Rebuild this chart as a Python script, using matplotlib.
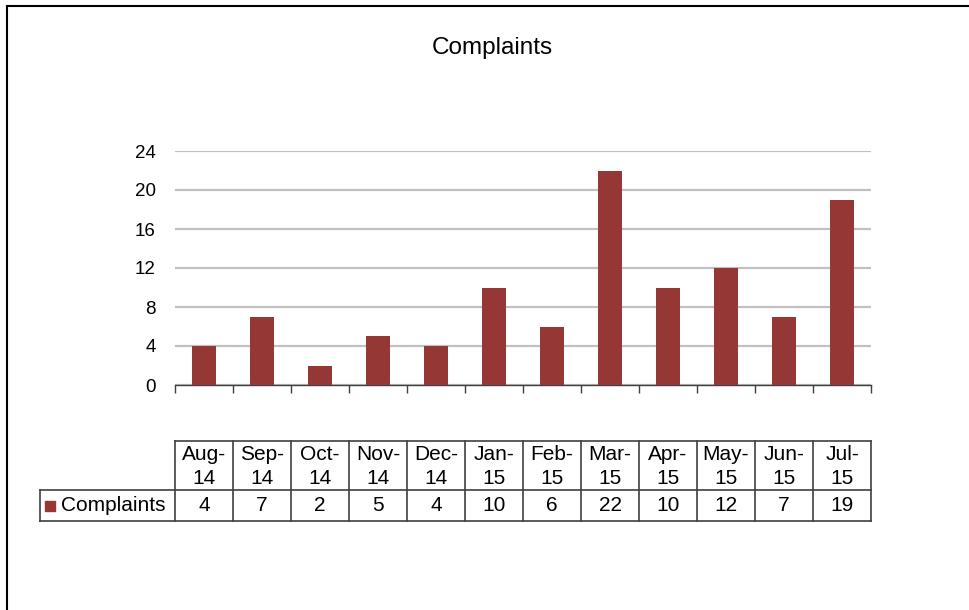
import matplotlib.pyplot as plt
from matplotlib.lines import Line2D

# chart data
months = ["Aug-\n14", "Sep-\n14", "Oct-\n14", "Nov-\n14", "Dec-\n14", "Jan-\n15",
          "Feb-\n15", "Mar-\n15", "Apr-\n15", "May-\n15", "Jun-\n15", "Jul-\n15"]
complaints = [4, 7, 2, 5, 4, 10, 6, 22, 10, 12, 7, 19]
series_name = "Complaints"
yticks = [0, 4, 8, 12, 16, 20, 24]

BAR_COLOR = "#953735"
W, H = 969, 610

plt.rcParams['font.family'] = ['Liberation Sans', 'DejaVu Sans']

fig = plt.figure(figsize=(W / 100, H / 100), dpi=100)

def fx(px):
    return px / W

def fy(py):
    return 1 - py / H

ax = fig.add_axes([fx(175), fy(385), fx(871) - fx(175), fy(151) - fy(385)])
n = len(complaints)
ax.bar(range(n), complaints, width=0.42, color=BAR_COLOR, zorder=3)
ax.set_xlim(-0.5, n - 0.5)
ax.set_ylim(0, 24)
ax.set_yticks(yticks)
ax.yaxis.grid(True, color="#c0c0c0", linewidth=1.6, zorder=0)
for s in ["top", "right", "left"]:
    ax.spines[s].set_visible(False)
ax.spines["bottom"].set_color("#404040")
ax.spines["bottom"].set_linewidth(1)
ax.tick_params(axis="y", length=0, labelsize=13.5, pad=14)
ax.set_xticks([i - 0.5 for i in range(n + 1)])
ax.set_xticklabels([])
ax.tick_params(axis="x", length=6, width=1, color="#404040", direction="out")

fig.text(0.508, fy(48), series_name, ha="center", va="center", fontsize=17.5)

# data table below the chart
top, mid, bot = fy(441), fy(490), fy(521)
left = fx(40)
x0, x1 = fx(175), fx(871)
cw = (x1 - x0) / n
lc = "#404040"
lines = [
    ([x0, x1], [top, top]),
    ([left, x1], [mid, mid]),
    ([left, x1], [bot, bot]),
    ([left, left], [mid, bot]),
]
for i in range(n + 1):
    xx = x0 + i * cw
    lines.append(([xx, xx], [bot, top]))
for xs, ys in lines:
    fig.add_artist(Line2D(xs, ys, color=lc, linewidth=1.2))

for i, (m, v) in enumerate(zip(months, complaints)):
    cx = x0 + (i + 0.5) * cw
    fig.text(cx, (top + mid) / 2 - 1 / H, m, ha="center", va="center", fontsize=15,
             linespacing=1.3)
    fig.text(cx, (mid + bot) / 2, str(v), ha="center", va="center", fontsize=15)

fig.patches.append(plt.Rectangle((fx(45), (mid + bot) / 2 - 5 / H), 10 / W, 10 / H,
                                 transform=fig.transFigure, color=BAR_COLOR))
fig.text(fx(61), (mid + bot) / 2, series_name, ha="left", va="center", fontsize=15)

# outer chart border
fig.add_artist(Line2D([fx(7), fx(7)], [0, fy(6)], color="black", linewidth=1.5))
fig.add_artist(Line2D([fx(7), 1], [fy(6), fy(6)], color="black", linewidth=1.5))

fig.savefig("out.png", dpi=100)
